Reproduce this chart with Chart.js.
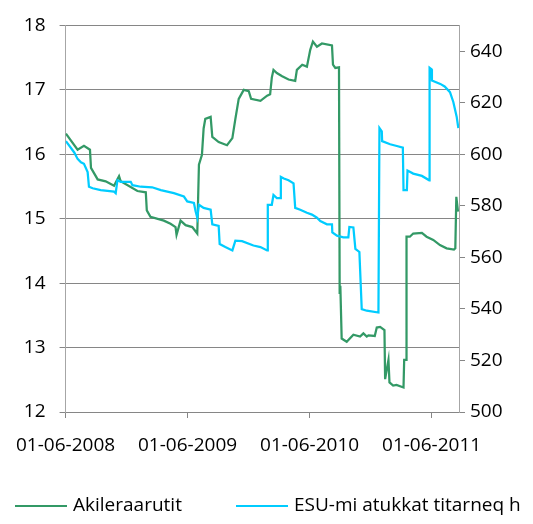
<!DOCTYPE html>
<html lang="kl">
<head>
  <meta charset="UTF-8" />
  <title>Akileraarutit / ESU-mi atukkat titarneq h</title>
  <script src="https://cdn.jsdelivr.net/npm/chart.js"></script>
  <style>
    html, body {
      margin: 0;
      padding: 0;
      background: #ffffff;
      overflow: hidden;
    }
    #wrap {
      width: 533px;
      height: 524px;
    }
  </style>
</head>
<body>
  <div id="wrap">
    <canvas id="chart" width="533" height="524"></canvas>
  </div>

  <script>
    // days counted from 01-06-2008
    const greenDays = [1, 36, 55, 73, 76, 96, 120, 145, 160, 165, 215, 240, 243, 254, 294, 314, 329, 332, 344, 359,
      379, 394, 399, 408, 413, 418, 434, 439, 458, 483, 499, 508, 518, 533, 548, 555, 583, 603, 612, 617,
      622, 632, 648, 667, 687, 692, 708, 722, 732, 740, 752, 767, 797, 800, 807, 818, 820, 822, 826, 841,
      861, 881, 891, 901, 906, 925, 931, 941, 954, 956, 966, 969, 980, 990, 1011, 1013, 1019, 1020, 1030, 1040,
      1066, 1080, 1100, 1120, 1140, 1162, 1166, 1169, 1174];
    const greenValues = [16.32, 16.07, 16.13, 16.07, 15.79, 15.61, 15.58, 15.51, 15.66, 15.58, 15.43, 15.41, 15.13, 15.03, 14.97, 14.92, 14.87, 14.75, 14.97, 14.90,
      14.87, 14.77, 15.84, 15.99, 16.40, 16.55, 16.58, 16.27, 16.19, 16.14, 16.25, 16.55, 16.86, 17.00, 16.98, 16.86, 16.83, 16.91, 16.93, 17.19,
      17.31, 17.26, 17.21, 17.16, 17.14, 17.31, 17.39, 17.36, 17.62, 17.75, 17.67, 17.72, 17.69, 17.39, 17.34, 17.35, 13.83, 13.96, 13.14, 13.09,
      13.20, 13.17, 13.22, 13.17, 13.19, 13.18, 13.31, 13.32, 13.27, 12.51, 12.81, 12.46, 12.41, 12.42, 12.38, 12.81, 12.81, 14.72, 14.72, 14.77,
      14.78, 14.72, 14.67, 14.59, 14.54, 14.52, 14.54, 15.34, 15.11];

    const esuDays = [1, 26, 36, 46, 55, 66, 70, 81, 105, 145, 150, 155, 165, 195, 200, 225, 259, 285, 324, 354,
      364, 384, 389, 394, 399, 413, 434, 439, 458, 461, 478, 499, 508, 528, 562, 583, 603, 605, 617, 622,
      632, 643, 644, 653, 667, 682, 687, 702, 722, 737, 752, 762, 782, 797, 798, 812, 831, 846, 849, 861,
      867, 879, 886, 901, 936, 939, 946, 947, 971, 991, 1009, 1011, 1021, 1023, 1040, 1066, 1088, 1089, 1095, 1096,
      1121, 1134, 1150, 1160, 1170, 1175];
    const esuValues = [605.1, 600.7, 598.2, 596.9, 596.3, 593.1, 587.4, 586.8, 586.1, 585.5, 584.9, 589.9, 589.3, 589.3, 588.0, 587.4, 587.2, 586.1, 584.9, 583.6,
      581.7, 581.1, 577.9, 575.4, 580.4, 579.2, 578.5, 572.8, 572.2, 565.2, 564.0, 562.7, 566.5, 566.3, 564.6, 564.0, 562.7, 580.4, 580.4, 584.2,
      583.0, 583.0, 591.2, 590.6, 589.9, 588.7, 579.2, 578.5, 577.3, 576.6, 575.4, 574.1, 572.8, 572.8, 569.7, 568.4, 567.8, 567.8, 571.8, 571.6,
      563.3, 562.1, 539.9, 539.3, 538.6, 610.2, 608.9, 605.1, 603.9, 603.2, 602.6, 586.1, 586.1, 593.7, 592.5, 591.6, 589.9, 633.6, 633.0, 628.6,
      627.3, 626.3, 624.1, 620.3, 614.6, 610.2];

    const seriesLabels = ['Akileraarutit', 'ESU-mi atukkat titarneq h'];
    const seriesColors = ['#339966', '#00ccff'];

    const leftTicks = [12, 13, 14, 15, 16, 17, 18];
    const rightTicks = [500, 520, 540, 560, 580, 600, 620, 640];
    const xTicks = [0, 365, 730, 1095];
    const xTickLabels = ['01-06-2008', '01-06-2009', '01-06-2010', '01-06-2011'];

    const font = { family: "'Open Sans', sans-serif", size: 19 };
    const gridGray = '#868686';

    // legend drawn by hand so both entries stay on one line like the original
    const legendPlugin = {
      id: 'oneLineLegend',
      afterDraw(chart) {
        const ctx = chart.ctx;
        const y = 506;
        const items = [{ x: 15 }, { x: 236 }];
        ctx.save();
        ctx.font = `${font.size}px ${font.family}`;
        ctx.textBaseline = 'middle';
        ctx.fillStyle = '#000';
        items.forEach((it, i) => {
          ctx.strokeStyle = seriesColors[i];
          ctx.lineWidth = 2;
          ctx.beginPath();
          ctx.moveTo(it.x, y);
          ctx.lineTo(it.x + 52, y);
          ctx.stroke();
          ctx.fillText(seriesLabels[i], it.x + 58, y);
        });
        ctx.restore();
      }
    };

    const toPoints = (xs, ys) => xs.map((d, i) => ({ x: d, y: ys[i] }));

    new Chart(document.getElementById('chart'), {
      type: 'line',
      data: {
        datasets: [
          {
            label: seriesLabels[0],
            data: toPoints(greenDays, greenValues),
            yAxisID: 'y',
            borderColor: seriesColors[0],
            borderWidth: 2.25,
            pointRadius: 0,
            tension: 0,
            order: 2
          },
          {
            label: seriesLabels[1],
            data: toPoints(esuDays, esuValues),
            yAxisID: 'y1',
            borderColor: seriesColors[1],
            borderWidth: 2.25,
            pointRadius: 0,
            tension: 0,
            order: 1
          }
        ]
      },
      options: {
        responsive: false,
        animation: false,
        devicePixelRatio: 1,
        layout: { padding: { top: 18, left: 0, right: 0, bottom: 0 } },
        plugins: {
          legend: { display: false },
          tooltip: { enabled: false }
        },
        scales: {
          x: {
            type: 'linear',
            min: 0,
            max: 1177,
            afterBuildTicks: s => { s.ticks = xTicks.map(v => ({ value: v })); },
            afterFit: s => { s.height = 112; },
            ticks: {
              font: font,
              color: '#000',
              padding: 16,
              maxRotation: 0,
              autoSkip: false,
              callback: v => xTickLabels[xTicks.indexOf(v)]
            },
            grid: {
              drawOnChartArea: false,
              drawTicks: true,
              tickLength: 6,
              color: gridGray
            },
            border: { color: gridGray }
          },
          y: {
            position: 'left',
            min: 12,
            max: 18,
            afterBuildTicks: s => { s.ticks = leftTicks.map(v => ({ value: v })); },
            afterFit: s => { s.width = 65; },
            ticks: { font: font, color: '#000', padding: 14 },
            grid: { color: gridGray, tickLength: 6 },
            border: { color: '#a6a6a6' }
          },
          y1: {
            position: 'right',
            min: 500,
            max: 650,
            afterBuildTicks: s => { s.ticks = rightTicks.map(v => ({ value: v })); },
            afterFit: s => { s.width = 74; },
            ticks: { font: font, color: '#000', padding: 5 },
            grid: { drawOnChartArea: false, color: gridGray, tickLength: 6 },
            border: { color: '#a6a6a6' }
          }
        }
      },
      plugins: [legendPlugin]
    });
  </script>
</body>
</html>
